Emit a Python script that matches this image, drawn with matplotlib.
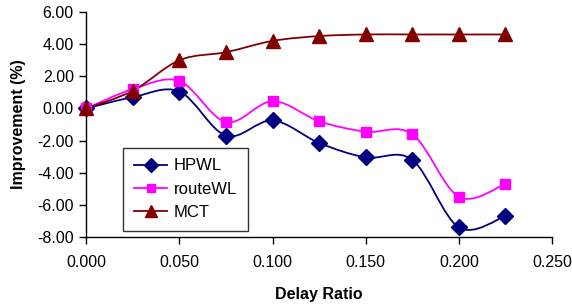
import numpy as np
import matplotlib
matplotlib.use("Agg")
import matplotlib.pyplot as plt
from matplotlib.path import Path
from matplotlib.patches import PathPatch
from matplotlib.lines import Line2D

plt.rcParams['font.family'] = ['Liberation Sans', 'DejaVu Sans']

delay = [0.0, 0.025, 0.05, 0.075, 0.1, 0.125, 0.15, 0.175, 0.2, 0.225]
hpwl = [0.0, 0.7, 1.05, -1.7, -0.75, -2.15, -3.05, -3.2, -7.4, -6.7]
route_wl = [0.0, 1.2, 1.7, -0.85, 0.45, -0.8, -1.45, -1.6, -5.5, -4.7]
mct = [0.0, 1.1, 3.0, 3.5, 4.2, 4.5, 4.6, 4.6, 4.6, 4.6]

names = ["HPWL", "routeWL", "MCT"]
colors = ["#000080", "#FF00FF", "#800000"]
markers = ["D", "s", "^"]
msizes = [8, 7, 10]


def smooth_path(xs, ys):
    # excel-like smoothed line: cubic bezier through every point
    p = np.column_stack([xs, ys])
    n = len(p)
    verts = [p[0]]
    codes = [Path.MOVETO]
    for i in range(n - 1):
        prev = p[i - 1] if i > 0 else p[i]
        nxt = p[i + 2] if i + 2 < n else p[i + 1]
        c1 = p[i] + (p[i + 1] - prev) / 6.0
        c2 = p[i + 1] - (nxt - p[i]) / 6.0
        verts += [c1, c2, p[i + 1]]
        codes += [Path.CURVE4] * 3
    return Path(verts, codes)


fig = plt.figure(figsize=(5.72, 3.07), dpi=100)
ax = fig.add_axes([0.151, 0.228, 0.814, 0.733])

handles = []
for ys, name, c, m, ms in zip([hpwl, route_wl, mct], names, colors, markers, msizes):
    ax.add_patch(PathPatch(smooth_path(delay, ys), facecolor="none",
                           edgecolor=c, lw=1.3, zorder=2))
    ax.plot(delay, ys, linestyle="none", marker=m, ms=ms, color=c,
            markeredgecolor=c, zorder=3, clip_on=False)
    handles.append(Line2D([], [], color=c, lw=1.3, marker=m, ms=ms - 1,
                          markeredgecolor=c))

ax.set_xlim(0, 0.25)
ax.set_ylim(-8, 6)
ax.set_xticks(np.arange(0, 0.2501, 0.05))
ax.set_yticks(np.arange(-8, 6.01, 2))
ax.xaxis.set_major_formatter(matplotlib.ticker.FormatStrFormatter("%.3f"))
ax.yaxis.set_major_formatter(matplotlib.ticker.FormatStrFormatter("%.2f"))
ax.tick_params(labelsize=11.5, direction="out", length=5, width=1, color="black")
ax.tick_params(axis="x", pad=8)
ax.tick_params(axis="y", pad=4)
for s in ["top", "right"]:
    ax.spines[s].set_visible(False)
for s in ["left", "bottom"]:
    ax.spines[s].set_linewidth(1)

ax.set_xlabel("Delay Ratio", fontsize=11.5, fontweight="bold", labelpad=12)
ax.set_ylabel("Improvement (%)", fontsize=11.5, fontweight="bold", labelpad=8)

leg = ax.legend(handles, names, loc="lower left", bbox_to_anchor=(0.079, 0.027),
                borderaxespad=0, fontsize=12, frameon=True, fancybox=False,
                edgecolor="black", borderpad=0.65, handlelength=2.0,
                labelspacing=0.5, handletextpad=0.4)
leg.get_frame().set_linewidth(1)

fig.savefig("out.png", dpi=100)
